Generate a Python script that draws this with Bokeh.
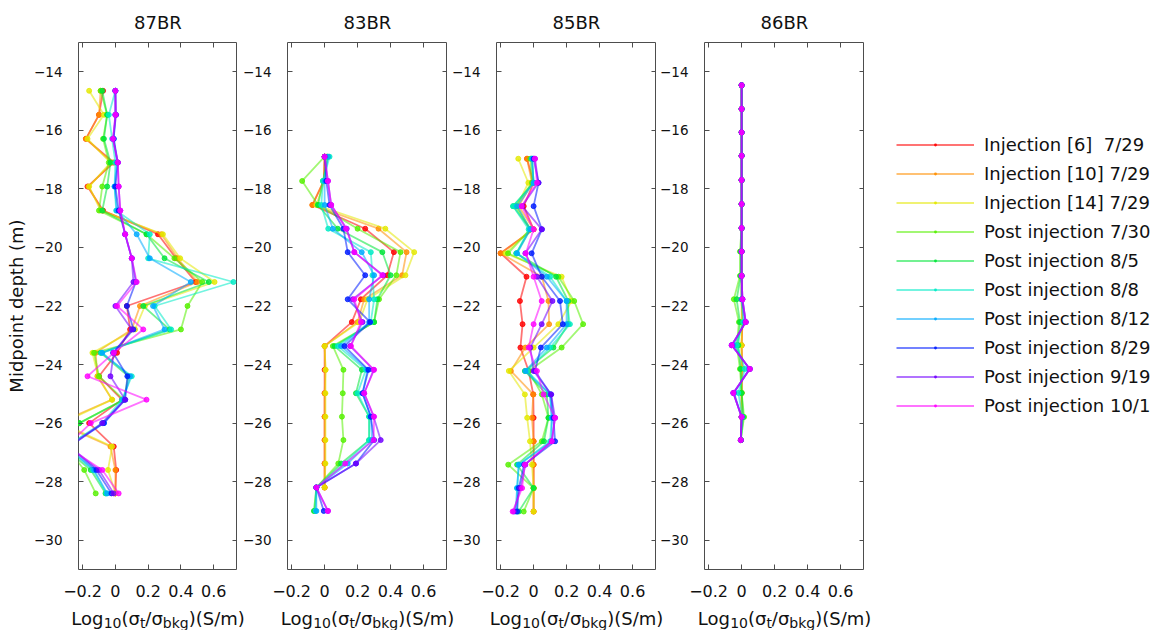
import math
from bokeh.plotting import figure
from bokeh.models import FixedTicker, LinearAxis, Label, Legend, LegendItem, Range1d
from bokeh.layouts import row, column
from bokeh.embed import file_html
from bokeh.resources import INLINE

nan = float("nan")

# ---------------- data ----------------
series_labels = ["Injection [6]  7/29", "Injection [10] 7/29", "Injection [14] 7/29",
                 "Post injection 7/30", "Post injection 8/5", "Post injection 8/8",
                 "Post injection 8/12", "Post injection 8/29", "Post injection 9/19",
                 "Post injection 10/1"]
series_colors = ["#FF0000", "#FF8E00", "#E3E800", "#55F000", "#00E639", "#00EBC6",
                 "#00AAFF", "#001CFF", "#7100FF", "#FF00FF"]
panel_names = ["87BR", "83BR", "85BR", "86BR"]

x_ticks = [-0.2, 0.0, 0.2, 0.4, 0.6]
x_tick_labels = ["\u22120.2", "0", "0.2", "0.4", "0.6"]
y_ticks = [-30, -28, -26, -24, -22, -20, -18, -16, -14]
y_tick_labels = ["\u221230", "\u221228", "\u221226", "\u221224", "\u221222", "\u221220", "\u221218", "\u221216", "\u221214"]

# 87BR
depth_87 = [-14.65, -15.47, -16.29, -17.1, -17.92, -18.74, -19.55, -20.37, -21.18, -22.0, -22.8, -23.6, -24.4, -25.2, -26.0, -26.8, -27.6, -28.4]
br87_inj6 = [-0.075, -0.1, -0.18, -0.01, -0.17, -0.075, 0.26, 0.37, 0.49, 0.07, 0.09, 0.01, -0.1, 0.04, -0.16, -0.01, 0.005, 0.0]
br87_inj10 = [-0.09, -0.1, -0.18, -0.02, -0.165, -0.08, 0.28, 0.38, 0.5, 0.15, 0.1, -0.12, -0.11, -0.02, -0.35, -0.03, 0.0, 0.0]
br87_inj14 = [-0.16, -0.07, -0.17, -0.03, -0.16, -0.09, 0.29, 0.395, 0.605, 0.18, 0.12, -0.14, -0.105, -0.02, -0.33, -0.02, -0.045, 0.0]
br87_p0730 = [-0.09, -0.05, -0.075, -0.04, -0.08, -0.1, 0.19, 0.36, 0.53, 0.44, 0.40, -0.13, -0.1, 0.05, -0.22, -0.3, -0.19, -0.12]
br87_p0805 = [-0.08, -0.05, -0.07, -0.03, -0.05, -0.08, 0.19, 0.3, 0.57, 0.17, 0.33, -0.09, 0.08, 0.05, -0.22, -0.32, -0.15, -0.06]
br87_p0808 = [0.0, -0.04, -0.02, 0.0, -0.005, 0.005, 0.21, 0.2, 0.72, 0.24, 0.34, -0.085, 0.1, 0.04, -0.08, -0.3, -0.136, -0.055]
br87_p0812 = [0.0, 0.0, -0.01, 0.01, -0.005, 0.01, 0.13, 0.21, 0.46, 0.23, 0.30, -0.08, 0.09, 0.05, -0.07, -0.3, -0.13, -0.05]
br87_p0829 = [0.0, 0.0, -0.01, 0.015, 0.0, 0.02, 0.06, 0.1, 0.125, 0.07, 0.11, -0.014, 0.073, 0.06, -0.07, -0.28, -0.116, -0.024]
br87_p0919 = [0.0, 0.005, -0.015, 0.015, 0.02, 0.03, 0.059, 0.1, 0.11, 0.0, 0.10, -0.01, -0.03, 0.06, -0.08, -0.28, -0.1, -0.01]
br87_p1001 = [0.0, 0.0, -0.015, 0.015, 0.02, 0.03, 0.06, 0.1, 0.13, 0.01, 0.17, -0.01, -0.17, 0.19, -0.15, -0.3, -0.08, 0.02]

# 83BR
depth_83 = [-16.9, -17.73, -18.55, -19.36, -20.16, -20.95, -21.77, -22.55, -23.37, -24.18, -24.98, -25.78, -26.58, -27.38, -28.2, -29.0]
br83_inj6 = [0.0, -0.005, -0.073, 0.246, 0.42, 0.38, 0.22, 0.165, 0.0, 0.0, 0.0, 0.0, 0.0, 0.0, 0.0, nan]
br83_inj10 = [0.0, -0.005, -0.075, 0.327, 0.497, 0.47, 0.24, 0.2, 0.0, 0.005, 0.0, 0.0, 0.0, 0.0, 0.0, nan]
br83_inj14 = [0.01, 0.0, -0.05, 0.368, 0.543, 0.49, 0.26, 0.21, 0.0, 0.006, 0.005, 0.005, 0.005, 0.005, 0.0, nan]
br83_p0730 = [0.0, -0.136, -0.04, 0.2, 0.46, 0.435, 0.33, 0.3, 0.05, 0.114, 0.11, 0.105, 0.114, 0.083, -0.05, -0.06]
br83_p0805 = [0.02, -0.01, -0.04, 0.08, 0.35, 0.4, 0.32, 0.3, 0.06, 0.226, 0.19, 0.27, 0.27, 0.1, -0.05, -0.065]
br83_p0808 = [0.03, -0.01, -0.02, 0.022, 0.28, 0.29, 0.3, 0.28, 0.08, 0.25, 0.2, 0.27, 0.27, 0.12, -0.05, -0.055]
br83_p0812 = [0.02, 0.0, 0.0, 0.05, 0.225, 0.3, 0.27, 0.27, 0.1, 0.26, 0.23, 0.28, 0.287, 0.14, -0.05, -0.05]
br83_p0829 = [0.0, 0.01, 0.03, 0.114, 0.14, 0.246, 0.14, 0.276, 0.12, 0.266, 0.23, 0.28, 0.3, 0.19, -0.05, -0.005]
br83_p0919 = [0.0, 0.02, 0.04, 0.134, 0.18, 0.354, 0.17, 0.23, 0.155, 0.297, 0.24, 0.297, 0.34, 0.19, -0.05, 0.02]
br83_p1001 = [0.0, 0.02, 0.04, 0.13, 0.18, 0.35, 0.18, 0.22, 0.16, 0.3, 0.24, 0.3, 0.297, 0.125, -0.05, 0.02]

# 85BR
depth_85 = [-16.97, -17.79, -18.59, -19.38, -20.2, -21.0, -21.83, -22.62, -23.42, -24.22, -25.02, -25.82, -26.62, -27.42, -28.22, -29.02]
br85_inj6 = [-0.04, 0.0, -0.06, 0.0, -0.2, -0.043, -0.083, -0.067, -0.08, -0.03, -0.002, 0.0, 0.0, 0.0, 0.0, 0.0]
br85_inj10 = [-0.04, -0.01, -0.09, 0.0, -0.2, 0.05, 0.09, 0.094, -0.05, -0.138, -0.002, -0.01, 0.0, 0.0, 0.0, 0.0]
br85_inj14 = [-0.093, -0.032, -0.1, -0.02, -0.17, 0.17, 0.23, 0.15, 0.0, -0.15, -0.053, -0.039, -0.022, -0.01, 0.0, 0.0]
br85_p0730 = [-0.02, -0.01, -0.11, -0.02, -0.155, 0.15, 0.246, 0.3, 0.17, -0.03, 0.05, 0.09, 0.05, -0.154, 0.0, -0.06]
br85_p0805 = [-0.01, 0.0, -0.124, -0.02, -0.105, 0.136, 0.21, 0.21, 0.12, -0.053, 0.08, 0.09, 0.063, -0.1, 0.0, -0.09]
br85_p0808 = [-0.01, 0.0, -0.124, -0.03, -0.104, 0.1, 0.2, 0.22, 0.1, -0.04, 0.1, 0.11, 0.1, -0.09, -0.1, -0.1]
br85_p0812 = [-0.01, 0.0, -0.1, -0.02, -0.1, 0.08, 0.2, 0.2, 0.08, -0.05, 0.1, 0.11, 0.11, -0.09, -0.1, -0.11]
br85_p0829 = [0.0, 0.03, 0.0, 0.05, -0.012, 0.049, 0.16, 0.177, 0.044, 0.008, 0.106, 0.12, 0.13, -0.058, -0.09, -0.1]
br85_p0919 = [0.008, 0.029, -0.07, 0.05, -0.05, 0.02, 0.114, 0.049, -0.02, 0.0, 0.106, 0.13, 0.11, -0.05, -0.08, -0.12]
br85_p1001 = [0.008, 0.02, -0.073, 0.0, -0.047, 0.0, 0.049, 0.0, -0.03, 0.02, 0.06, 0.13, 0.11, -0.053, -0.07, -0.127]

# 86BR
depth_86 = [-14.46, -15.27, -16.07, -16.87, -17.7, -18.52, -19.34, -20.14, -20.97, -21.77, -22.55, -23.34, -24.15, -24.97, -25.79, -26.58]
br86_inj6 = [0.0, 0.0, 0.0, 0.0, 0.0, 0.0, 0.0, 0.0, 0.0, 0.0, 0.005, 0.0, 0.005, 0.0, 0.0, -0.005]
br86_inj10 = [0.0, 0.0, 0.0, 0.0, 0.0, 0.0, 0.0, 0.0, 0.0, 0.0, 0.005, 0.0, 0.0, 0.0, 0.0, -0.005]
br86_inj14 = [0.0, 0.0, 0.0, 0.0, 0.0, 0.0, 0.0, 0.0, 0.0, 0.0, 0.0, 0.0, 0.0, 0.0, 0.0, -0.005]
br86_p0730 = [0.0, 0.0, 0.0, 0.0, 0.0, 0.0, 0.0, -0.01, -0.01, -0.047, -0.016, -0.03, -0.01, 0.0, 0.015, -0.005]
br86_p0805 = [0.0, 0.0, 0.0, 0.0, 0.0, 0.0, 0.0, -0.005, -0.005, -0.03, -0.01, -0.02, -0.005, 0.0, 0.01, -0.005]
br86_p0808 = [0.0, 0.0, 0.0, 0.0, 0.0, 0.0, 0.0, 0.0, 0.0, 0.0, 0.01, -0.03, 0.02, -0.02, 0.005, -0.005]
br86_p0812 = [0.0, 0.0, 0.0, 0.0, 0.0, 0.0, 0.0, 0.0, 0.0, 0.0, 0.02, -0.05, 0.045, -0.045, 0.0, -0.005]
br86_p0829 = [0.0, 0.0, 0.0, 0.0, 0.0, 0.0, 0.0, 0.0, 0.0, 0.005, 0.025, -0.06, 0.05, -0.05, 0.0, -0.005]
br86_p0919 = [0.0, 0.0, 0.0, 0.0, 0.0, 0.0, 0.0, 0.0, 0.0, 0.005, 0.025, -0.06, 0.05, -0.05, 0.0, -0.005]
br86_p1001 = [0.0, 0.0, 0.0, 0.0, 0.0, 0.0, 0.0, 0.0, 0.0, 0.005, 0.025, -0.06, 0.05, -0.05, 0.0, -0.005]

panels = [
    (depth_87, [br87_inj6, br87_inj10, br87_inj14, br87_p0730, br87_p0805, br87_p0808, br87_p0812, br87_p0829, br87_p0919, br87_p1001]),
    (depth_83, [br83_inj6, br83_inj10, br83_inj14, br83_p0730, br83_p0805, br83_p0808, br83_p0812, br83_p0829, br83_p0919, br83_p1001]),
    (depth_85, [br85_inj6, br85_inj10, br85_inj14, br85_p0730, br85_p0805, br85_p0808, br85_p0812, br85_p0829, br85_p0919, br85_p1001]),
    (depth_86, [br86_inj6, br86_inj10, br86_inj14, br86_p0730, br86_p0805, br86_p0808, br86_p0812, br86_p0829, br86_p0919, br86_p1001]),
]

# ---------------- style ----------------
FONT = "DejaVu Sans"
TXT = "#111111"
FRAME = "#4d4d4d"
X0, X1 = -0.225, 0.745
Y0, Y1 = -31, -13
FRAME_H = 527
TOP, BOTTOM = 41, 34
STRIP_H = 27
border_lefts = [78, 50, 49, 48]
frame_widths = [159, 160, 160, 160]
LINE_W, LINE_A, DOT, DOT_A = 1.8, 0.55, 5, 0.8

# DejaVu Sans advance widths (em fraction) for the x-label composition
CW = {'L': 0.557, 'o': 0.612, 'g': 0.635, '(': 0.390, '\u03c3': 0.634, '/': 0.337, ')': 0.390,
      'S': 0.635, 'm': 0.974, '1': 0.636, '0': 0.636, 't': 0.392, 'b': 0.635, 'k': 0.579}
MAIN_PX, SUB_PX = 18, 14
xlabel_parts = [("Log", False), ("10", True), ("(\u03c3", False), ("t", True),
                ("/\u03c3", False), ("bkg", True), (")(S/m)", False)]


def text_w(s, px):
    return sum(CW.get(c, 0.6) for c in s) * px


def make_panel(i):
    depths, series = panels[i]
    fw = frame_widths[i]
    p = figure(title=panel_names[i], frame_width=fw, frame_height=FRAME_H,
               min_border_left=border_lefts[i], min_border_right=0,
               min_border_top=TOP, min_border_bottom=BOTTOM,
               x_range=Range1d(X0, X1), y_range=Range1d(Y0, Y1),
               output_backend="svg", toolbar_location=None, tools="")
    p.background_fill_color = "white"
    p.border_fill_color = "white"
    p.outline_line_color = FRAME
    p.outline_line_width = 1
    p.xgrid.visible = False
    p.ygrid.visible = False
    p.title.align = "center"
    p.title.text_font = FONT
    p.title.text_font_size = "18px"
    p.title.text_font_style = "normal"
    p.title.text_color = TXT
    p.title.standoff = 19

    for ax, ticks, labels, fs, so in ((p.xaxis[0], x_ticks, x_tick_labels, "16px", 15),
                                      (p.yaxis[0], y_ticks, y_tick_labels, "13.5px", 16)):
        ax.ticker = FixedTicker(ticks=ticks)
        ax.major_label_overrides = {t: l for t, l in zip(ticks, labels)}
        ax.major_label_text_font = FONT
        ax.major_label_text_font_size = fs
        ax.major_label_text_color = TXT
        ax.major_label_standoff = so
        ax.axis_line_color = None
        ax.major_tick_in = 5
        ax.major_tick_out = 0
        ax.major_tick_line_color = FRAME
        ax.minor_tick_line_color = None

    if i == 0:
        p.yaxis[0].axis_label = "Midpoint depth (m)"
        p.yaxis[0].axis_label_text_font = FONT
        p.yaxis[0].axis_label_text_font_size = "18px"
        p.yaxis[0].axis_label_text_font_style = "normal"
        p.yaxis[0].axis_label_text_color = TXT
        p.yaxis[0].axis_label_standoff = 4

    for place, ticks in (("above", x_ticks), ("right", y_ticks)):
        ax = LinearAxis(ticker=FixedTicker(ticks=ticks),
                        major_label_overrides={t: "" for t in ticks},
                        major_label_standoff=0, axis_line_color=None, major_tick_in=5,
                        major_tick_out=0, major_tick_line_color=FRAME, minor_tick_line_color=None)
        p.add_layout(ax, place)

    for vals, color in zip(series, series_colors):
        p.line(x=vals, y=depths, line_color=color, line_width=LINE_W, line_alpha=LINE_A)
        p.scatter(x=vals, y=depths, size=DOT, fill_color=color, line_color=color,
                  fill_alpha=DOT_A, line_alpha=DOT_A)
    return p


figs = [make_panel(i) for i in range(4)]

# one strip under the four panels carrying the composed x-axis labels (with subscripts)
col_widths = [b + w for b, w in zip(border_lefts, frame_widths)]
strip_w = sum(col_widths) + 30
strip = figure(frame_width=strip_w, frame_height=STRIP_H, min_border_left=0, min_border_right=0,
               min_border_top=0, min_border_bottom=0, x_axis_type=None, y_axis_type=None,
               x_range=Range1d(0, 1), y_range=Range1d(0, 1),
               output_backend="svg", toolbar_location=None, tools="")
strip.outline_line_color = None
strip.background_fill_color = "white"
strip.border_fill_color = "white"
total_w = sum(text_w(t, SUB_PX if sub else MAIN_PX) for t, sub in xlabel_parts)
col_start = 0
for i in range(4):
    center = col_start + border_lefts[i] + frame_widths[i] / 2.0
    cx = center - total_w / 2.0
    for t, sub in xlabel_parts:
        px = SUB_PX if sub else MAIN_PX
        strip.add_layout(Label(x=cx, y=(STRIP_H - 19 if sub else STRIP_H - 15),
                               x_units="screen", y_units="screen", text=t,
                               text_font=FONT, text_font_size=f"{px}px", text_color=TXT,
                               text_align="left", text_baseline="alphabetic"))
        cx += text_w(t, px)
    col_start += col_widths[i]

# legend panel (same vertical frame as the data panels so the row aligns)
leg = figure(frame_width=254, frame_height=FRAME_H, min_border_left=32, min_border_right=0,
             min_border_top=TOP, min_border_bottom=BOTTOM, x_axis_type=None, y_axis_type=None,
             x_range=Range1d(0, 1), y_range=Range1d(0, 1),
             output_backend="svg", toolbar_location=None, tools="")
leg.outline_line_color = None
leg.background_fill_color = "white"
leg.border_fill_color = "white"
items = []
for label, color in zip(series_labels, series_colors):
    r1 = leg.line(x=[nan], y=[nan], line_color=color, line_width=LINE_W, line_alpha=LINE_A)
    r2 = leg.scatter(x=[nan], y=[nan], marker="dot", size=16, line_color=color,
                     line_alpha=0.9)
    items.append(LegendItem(label=label, renderers=[r1, r2]))
legend = Legend(items=items, location=(0, FRAME_H - 88 - 290), margin=0, padding=0, spacing=0,
                glyph_width=78, glyph_height=29, label_height=29, label_standoff=10,
                label_text_font=FONT, label_text_font_size="18px", label_text_color=TXT,
                border_line_color=None, background_fill_alpha=0)
leg.add_layout(legend)

layout = column(row(*figs, leg), strip)
open("out.html", "w").write(file_html(layout, INLINE))
